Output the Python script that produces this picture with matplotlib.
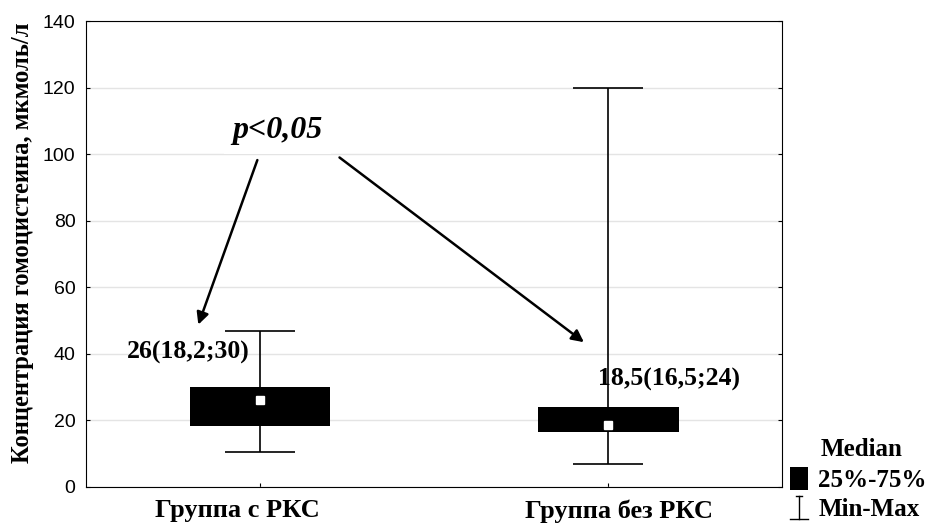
import matplotlib.pyplot as plt
import matplotlib.transforms as mtransforms
import numpy as np
from matplotlib.patches import Rectangle
from matplotlib.lines import Line2D

# groups and their statistics (homocysteine, umol/l)
groups = ['Группа с РКС', 'Группа без РКС']
medians = [26, 18.5]
q25 = [18.2, 16.5]
q75 = [30, 24]
mins = [10.5, 6.8]
maxs = [47, 120]
labels = ['26(18,2;30)', '18,5(16,5;24)']

serif = 'Liberation Serif'
sans = 'Liberation Sans'

fig = plt.figure(figsize=(9.31, 5.25), dpi=100)
ax = fig.add_axes([0.0924, 0.0724, 0.7476, 0.8876])

pos = np.arange(len(groups))
box_w = 0.405
cap_w = 0.2

ax.grid(axis='y', color='#e4e4e4', linewidth=1)
ax.set_axisbelow(True)

for i in pos:
    # whisker min-max
    ax.vlines(i, mins[i], maxs[i], color='black', linewidth=1.2, zorder=2)
    ax.hlines([mins[i], maxs[i]], i - cap_w / 2, i + cap_w / 2, color='black', linewidth=1.2, zorder=2)
    # box 25-75
    ax.bar(i, q75[i] - q25[i], bottom=q25[i], width=box_w, color='black', zorder=3)
    # median
    ax.plot(i, medians[i], marker='s', color='white', markersize=6, zorder=4)

ax.set_xlim(-0.5, 1.5)
ax.set_ylim(0, 140)
ax.set_yticks(np.arange(0, 141, 20))
ax.set_xticks(pos)
ax.tick_params(axis='y', direction='in', right=True, length=3, labelsize=14, pad=7.5)
ax.tick_params(axis='x', direction='in', length=3, pad=9)
ax.set_xticklabels(groups, fontfamily=serif, fontweight='bold', fontsize=19)
for t in ax.get_yticklabels():
    t.set_fontfamily(sans)
# the original labels sit a bit off their ticks
for t, dx in zip(ax.get_xticklabels(), [-16.5, 8]):
    t.set_transform(t.get_transform() + mtransforms.ScaledTranslation(dx / 72, 0, fig.dpi_scale_trans))
ax.set_ylabel('Концентрация гомоцистеина, мкмоль/л', fontfamily=serif, fontweight='bold',
              fontsize=17.7)
ax.yaxis.set_label_coords(-0.075, 0.524)

# value labels
ax.text(-0.029, 40.3, labels[0], fontfamily=serif, fontweight='bold', fontsize=18.5,
        ha='right', va='center')
ax.text(0.97, 32.3, labels[1], fontfamily=serif, fontweight='bold', fontsize=18.5,
        ha='left', va='center')

# p-value and arrows
ax.text(0.05, 107, 'p<0,05', fontfamily=serif, fontweight='bold', fontstyle='italic',
        fontsize=23, ha='center', va='center',
        bbox=dict(facecolor='white', edgecolor='none', pad=6))
arrow = dict(arrowstyle='-|>', color='black', linewidth=1.8, mutation_scale=18)
ax.annotate('', xy=(-0.18, 48), xytext=(-0.005, 99), arrowprops=arrow)
ax.annotate('', xy=(0.937, 43), xytext=(0.222, 99.5), arrowprops=arrow)

# legend, drawn in figure coordinates
leg_font = dict(fontfamily=serif, fontweight='bold', fontsize=18, va='center', ha='left')
fig.text(0.881, 0.143, 'Median', **leg_font)
fig.text(0.879, 0.0857, '25%-75%', **leg_font)
fig.text(0.879, 0.0286, 'Min-Max', **leg_font)
fig.patches.append(Rectangle((0.8486, 0.0667), 0.0193, 0.0438, facecolor='black',
                             transform=fig.transFigure, figure=fig))
fig.lines.append(Line2D([0.858, 0.858], [0.0105, 0.0552], color='black', linewidth=1,
                        transform=fig.transFigure, figure=fig))
fig.lines.append(Line2D([0.8486, 0.8679], [0.0105, 0.0105], color='black', linewidth=1,
                        transform=fig.transFigure, figure=fig))
fig.lines.append(Line2D([0.855, 0.861], [0.0552, 0.0552], color='black', linewidth=1,
                        transform=fig.transFigure, figure=fig))

fig.savefig('out.png', dpi=100)
